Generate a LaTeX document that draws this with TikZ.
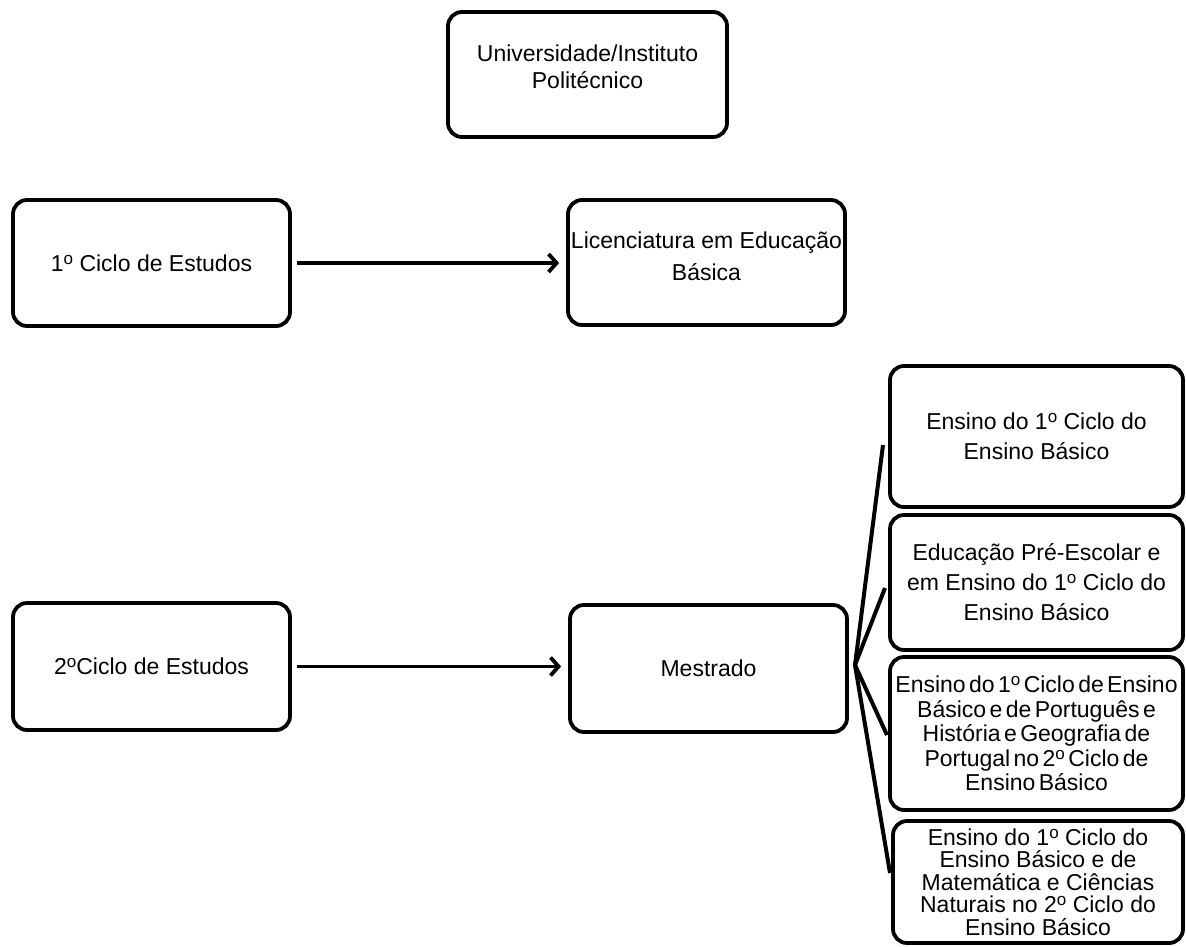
\documentclass[tikz,border=0pt]{standalone}
\usepackage{fontspec}
\setmainfont{Liberation Sans}
\usetikzlibrary{arrows.meta}
\newcommand{\ordo}{\raisebox{0.3em}{\fontsize{17}{17}\selectfont o}}
\newcommand{\tightsp}{\spaceskip=3.4pt plus 1pt\relax}
\begin{document}
\begin{tikzpicture}[x=1pt,y=-1pt,
  box/.style={draw, line width=3.8pt, rounded corners=14pt, align=center, inner sep=0pt},
  fs/.style={font=\fontsize{23}{#1}\selectfont},
  conn/.style={line width=3.8pt, -{Straight Barb[length=8pt,width=18pt]}, shorten <=5pt, shorten >=7pt},
  fanline/.style={line width=4pt, line join=miter}]
\useasboundingbox (0,0) rectangle (1186,946);

\node[box, fs=27, minimum width=279pt, minimum height=125pt, text depth=16pt] (uni) at (587.5,74.5) {Universidade/Instituto\\Politécnico};

\node[box, fs=27, minimum width=277pt, minimum height=126pt] (c1) at (151.5,263) {1\ordo{} Ciclo de Estudos};
\node[box, fs=32, minimum width=277pt, minimum height=125pt, text depth=12pt] (lic) at (706.5,262.5) {Licenciatura em Educação\\Básica};

\node[box, fs=27, minimum width=277pt, minimum height=127pt] (c2) at (151.5,666.5) {2\ordo Ciclo de Estudos};
\node[box, fs=27, minimum width=277pt, minimum height=127pt] (mes) at (708.5,668.5) {Mestrado};

\node[box, fs=30, minimum width=293pt, minimum height=141pt] (ra) at (1036.5,436.5) {Ensino do 1\ordo{} Ciclo do\\Ensino Básico};
\node[box, fs=30, minimum width=293pt, minimum height=135pt] (rb) at (1036.5,582.5) {Educação Pré-Escolar e\\em Ensino do 1\ordo{} Ciclo do\\Ensino Básico};
\node[box, font=\fontsize{23}{24.5}\selectfont\tightsp, minimum width=293pt, minimum height=153pt] (rc) at (1036.5,733.5) {Ensino do 1\ordo{} Ciclo de Ensino\\Básico e de Português e\\História e Geografia de\\Portugal no 2\ordo{} Ciclo de\\Ensino Básico};
\node[box, fs=22.5, minimum width=290pt, minimum height=122pt] (rd) at (1038,882) {Ensino do 1\ordo{} Ciclo do\\Ensino Básico e de\\Matemática e Ciências\\Naturais no 2\ordo{} Ciclo do\\Ensino Básico};

\draw[conn] (c1.east) -- (c1.east -| lic.west);
\draw[conn] (c2.east) -- (c2.east -| mes.west);

\coordinate (apex) at (855,665);
\coordinate (fa) at (883,445);
\coordinate (fb) at (885,588);
\coordinate (fc) at (887,735);
\coordinate (fd) at (890,873);
\draw[fanline] (fa) -- (apex) -- (fd);
\draw[fanline] (fb) -- (apex) -- (fc);
\end{tikzpicture}
\end{document}
